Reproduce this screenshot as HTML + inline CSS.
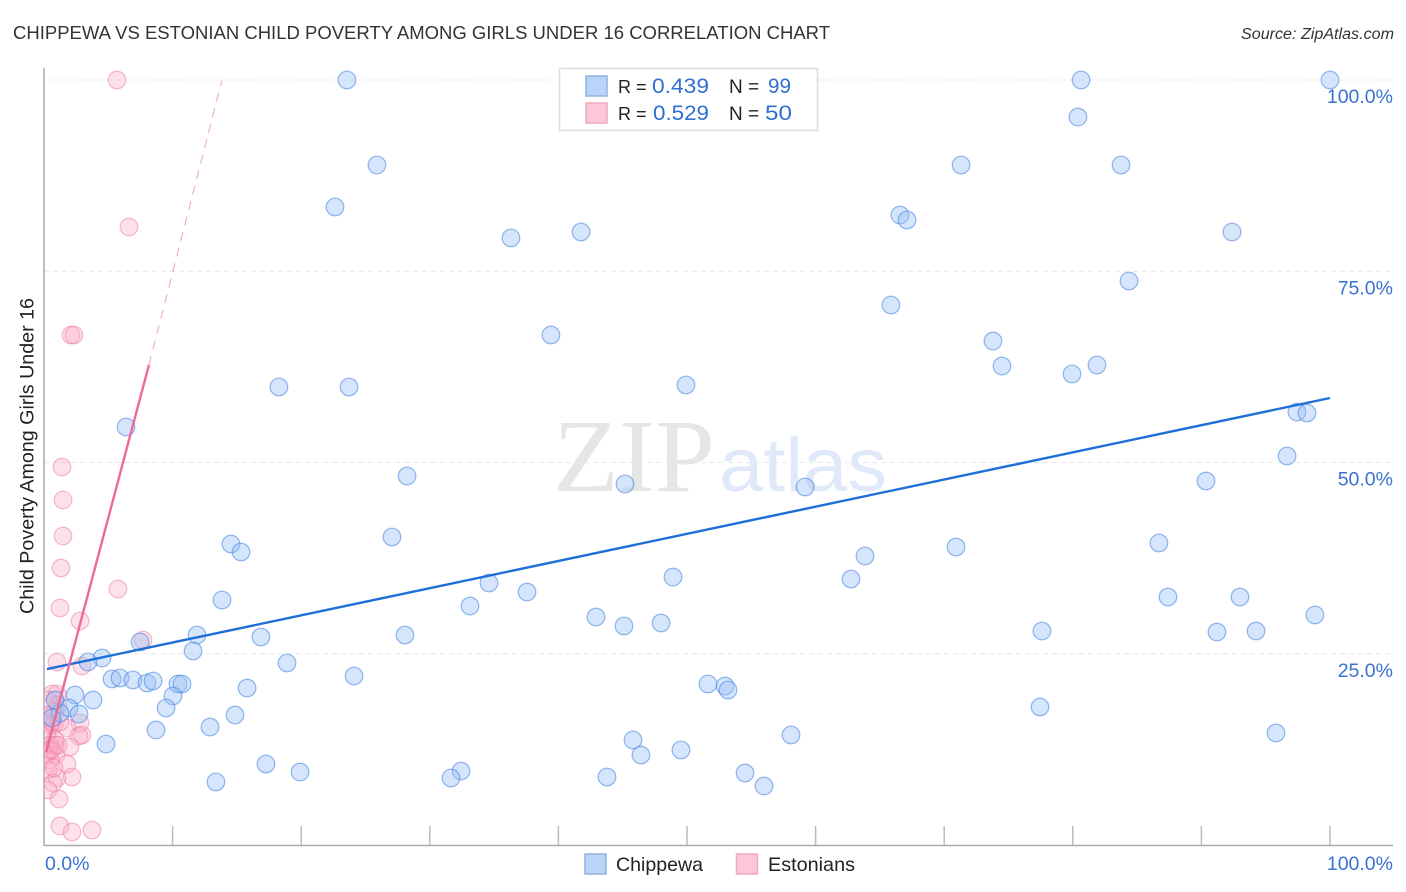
<!DOCTYPE html>
<html lang="en">
<head>
<meta charset="utf-8">
<title>Chippewa vs Estonian Child Poverty Correlation Chart</title>
<style>
html,body{margin:0;padding:0;background:#fff;}
svg{display:block;font-family:"Liberation Sans",sans-serif;}
</style>
</head>
<body>
<svg id="chart" xmlns="http://www.w3.org/2000/svg" width="1406" height="892" viewBox="0 0 1406 892">
  <defs>
    <clipPath id="plot-clip"><rect x="44" y="60" width="1360" height="786"/></clipPath>
  </defs>
  <rect x="0" y="0" width="1406" height="892" fill="#ffffff"/>
  <text x="13" y="39" font-size="18.5" fill="#333333" textLength="817" lengthAdjust="spacingAndGlyphs">CHIPPEWA VS ESTONIAN CHILD POVERTY AMONG GIRLS UNDER 16 CORRELATION CHART</text>
  <text x="1241" y="39" font-size="15.5" font-style="italic" fill="#333333" textLength="153" lengthAdjust="spacingAndGlyphs">Source: ZipAtlas.com</text>
  <text transform="translate(33.5,456) rotate(-90)" text-anchor="middle" font-size="19" fill="#222222" textLength="316" lengthAdjust="spacingAndGlyphs">Child Poverty Among Girls Under 16</text>
  <g id="grid"></g>
  <text x="553" y="491" font-family="'Liberation Serif',serif" font-size="104" fill="#e6e6e6" textLength="162" lengthAdjust="spacingAndGlyphs">ZIP</text>
  <text x="719" y="491" font-size="76" fill="#dfe9f9" textLength="168" lengthAdjust="spacingAndGlyphs">atlas</text>
  <g id="axes"></g>
  <g id="ylabels"></g>
  <g id="xlabels"></g>
  <g id="pink-points" clip-path="url(#plot-clip)"></g>
  <g id="blue-points" clip-path="url(#plot-clip)"></g>
  <g id="trends"></g>

  <g>
    <rect x="559.5" y="68.5" width="258" height="62" fill="#ffffff" stroke="#dddddd" stroke-width="1.5"/>
    <rect x="586" y="76" width="21" height="20" fill="#bad4f8" stroke="#8fb2e2" stroke-width="1.5"/>
    <rect x="586" y="103" width="21" height="20" fill="#fcc8d9" stroke="#f1a9c2" stroke-width="1.5"/>
    <text x="618" y="93" font-size="18" fill="#222222">R =</text>
    <text x="652" y="93" font-size="21" fill="#2f6fd0" textLength="57" lengthAdjust="spacingAndGlyphs">0.439</text>
    <text x="729" y="93" font-size="19" fill="#222222">N =</text>
    <text x="768" y="93" font-size="21" fill="#2f6fd0" textLength="23" lengthAdjust="spacingAndGlyphs">99</text>
    <text x="618" y="120" font-size="18" fill="#222222">R =</text>
    <text x="653" y="120" font-size="21" fill="#2f6fd0" textLength="56" lengthAdjust="spacingAndGlyphs">0.529</text>
    <text x="729" y="120" font-size="19" fill="#222222">N =</text>
    <text x="765" y="120" font-size="21" fill="#2f6fd0" textLength="27" lengthAdjust="spacingAndGlyphs">50</text>
  </g>

  <g>
    <g>
      <rect x="585" y="854" width="21" height="20" fill="#bad4f8" stroke="#8fb2e2" stroke-width="1.5"/>
      <text x="616" y="871" font-size="19.5" fill="#222222" textLength="87" lengthAdjust="spacingAndGlyphs">Chippewa</text>
    </g>
    <g>
      <rect x="736.5" y="854" width="21" height="20" fill="#fcc8d9" stroke="#f1a9c2" stroke-width="1.5"/>
      <text x="768" y="871" font-size="19.5" fill="#222222" textLength="87" lengthAdjust="spacingAndGlyphs">Estonians</text>
    </g>
  </g>
</svg>
<script>
const chippewaX = [23.56,80.64,100,80.40,25.89,71.31,83.75,22.63,66.56,67.11,36.31,41.76,92.38,84.37,65.86,39.42,73.79,74.49,79.94,81.88,49.92,18.27,23.72,97.43,98.21,6.38,96.66,28.23,90.36,45.18,59.18,27.06,86.70,14.54,15.32,70.92,63.84,62.75,48.91,34.60,37.56,13.84,33.13,87.40,93.00,98.83,42.92,45.10,47.98,91.21,94.25,77.60,28.07,11.90,16.87,7.47,11.59,4.51,3.42,18.90,24.11,5.29,5.91,6.92,8.01,8.48,10.42,10.73,15.79,10.03,2.41,3.81,9.49,52.96,53.19,51.63,77.45,14.85,12.91,8.71,1.94,1.24,2.72,95.80,58.09,4.82,45.80,46.42,49.53,17.26,19.91,32.43,31.65,43.78,54.51,55.99,13.37,0.86,0.62];
const chippewaY = [100,100,100,95.16,88.89,88.89,88.89,83.40,82.35,81.70,79.35,80.13,80.13,73.73,70.59,66.67,65.88,62.61,61.57,62.75,60.13,59.87,59.87,56.60,56.47,54.64,50.85,48.24,47.58,47.19,46.80,40.26,39.48,39.35,38.30,38.95,37.78,34.77,35.03,34.25,33.07,32.03,31.24,32.42,32.42,30.07,29.80,28.63,29.02,27.84,27.97,27.97,27.45,27.45,27.19,26.54,25.36,24.44,23.92,23.79,22.09,21.70,21.83,21.57,21.18,21.44,21.05,21.05,20.52,19.48,19.61,18.95,17.91,20.78,20.26,21.05,18.04,16.99,15.42,15.03,17.91,17.25,17.12,14.64,14.38,13.20,13.73,11.76,12.42,10.59,9.54,9.67,8.76,8.89,9.41,7.71,8.24,18.95,16.60];
const estoniansX = [5.68,6.61,2.10,2.33,1.40,1.48,1.48,1.32,1.24,2.80,5.75,7.70,2.95,1.01,1.01,0.62,1.09,0.31,0.86,0.47,0.78,2.80,1.79,2.95,2.72,2.02,0.23,0.86,0.47,0.93,0.16,0.47,1.79,0.31,2.18,1.01,0.70,0.31,1.17,1.24,2.18,3.73,0.86,0.62,0.39,0.78,0.62,1.09,1.24,0.31];
const estoniansY = [100,80.78,66.67,66.67,49.41,45.10,40.39,36.21,30.98,29.28,33.46,26.80,23.40,23.92,19.74,19.74,18.30,18.95,17.39,15.69,15.69,15.95,15.29,14.38,14.25,12.81,14.38,13.73,13.07,11.76,11.76,11.11,10.59,9.80,8.89,8.76,8.10,7.19,6.01,2.48,1.70,1.96,13.07,12.42,12.42,10.07,16.08,13.07,16.08,16.99];
const chippewaTrendX = [0.23,100];
const chippewaTrendY = [23.0,58.43];
const estoniansTrendX = [0.16,8.16];
const estoniansTrendY = [12.16,62.75];
const estoniansDashX = [8.16,13.84];
const estoniansDashY = [62.75,100];
const xTicks = [10,20,30,40,50,60,70,80,90,100];
const gridValues = [25,50,75,100];
const yTickLabels = ["25.0%","50.0%","75.0%","100.0%"];
const xEndLabels = ["0.0%","100.0%"];

const NS = "http://www.w3.org/2000/svg";
function xScale(v){ return 44 + v * 12.86; }
function yScale(v){ return 845 - v * 7.65; }
function make(tag, attrs, parent){
  const el = document.createElementNS(NS, tag);
  for (const k in attrs) el.setAttribute(k, attrs[k]);
  parent.appendChild(el);
  return el;
}

const grid = document.getElementById("grid");
gridValues.forEach(function(v){
  const l = make("line", {x1:44, x2:1393, y1:yScale(v), y2:yScale(v), stroke:"#e8e8e8", "stroke-width":1, "stroke-dasharray":"5 4"}, grid);
  
  
});

const axes = document.getElementById("axes");
const yAxis = make("line", {x1:44, x2:44, y1:68, y2:846, stroke:"#aaaaaa", "stroke-width":1.5}, axes);


const xAxis = make("line", {x1:44, x2:1393, y1:845.5, y2:845.5, stroke:"#aaaaaa", "stroke-width":1.5}, axes);


xTicks.forEach(function(v){
  const t = make("line", {x1:xScale(v), x2:xScale(v), y1:826, y2:845, stroke:"#bbbbbb", "stroke-width":1.5}, axes);
  
  
});

const ylabels = document.getElementById("ylabels");
gridValues.forEach(function(v, i){
  const t = make("text", {x:1393, y:yScale(v) + 23, "text-anchor":"end", "font-size":19.5, fill:"#3a72d0"}, ylabels);
  
  
  t.textContent = yTickLabels[i];
});

const xlabels = document.getElementById("xlabels");
const x0 = make("text", {x:45, y:870, "font-size":19.5, fill:"#3a72d0"}, xlabels);


x0.textContent = xEndLabels[0];
const x1 = make("text", {x:1393, y:870, "text-anchor":"end", "font-size":19.5, fill:"#3a72d0"}, xlabels);


x1.textContent = xEndLabels[1];

const pinkGroup = document.getElementById("pink-points");
estoniansX.forEach(function(v, i){
  const c = make("circle", {cx:xScale(v), cy:yScale(estoniansY[i]), r:8.8, fill:"rgba(250,170,195,0.35)", stroke:"rgba(238,120,160,0.5)", "stroke-width":1.2}, pinkGroup);
  
  
});

const blueGroup = document.getElementById("blue-points");
chippewaX.forEach(function(v, i){
  const c = make("circle", {cx:xScale(v), cy:yScale(chippewaY[i]), r:8.8, fill:"rgba(150,190,245,0.4)", stroke:"rgba(60,125,220,0.55)", "stroke-width":1.2}, blueGroup);
  
  
});

const trends = document.getElementById("trends");
const blueLine = make("line", {x1:xScale(chippewaTrendX[0]), y1:yScale(chippewaTrendY[0]), x2:xScale(chippewaTrendX[1]), y2:yScale(chippewaTrendY[1]), stroke:"#1f6fd8", "stroke-width":2.4}, trends);


const pinkDash = make("line", {x1:xScale(estoniansDashX[0]), y1:yScale(estoniansDashY[0]), x2:xScale(estoniansDashX[1]), y2:yScale(estoniansDashY[1]), stroke:"#f0a0c0", "stroke-width":1, "stroke-dasharray":"9 7"}, trends);


const pinkLine = make("line", {x1:xScale(estoniansTrendX[0]), y1:yScale(estoniansTrendY[0]), x2:xScale(estoniansTrendX[1]), y2:yScale(estoniansTrendY[1]), stroke:"#ea6a9a", "stroke-width":2.4}, trends);


</script>
</body>
</html>
